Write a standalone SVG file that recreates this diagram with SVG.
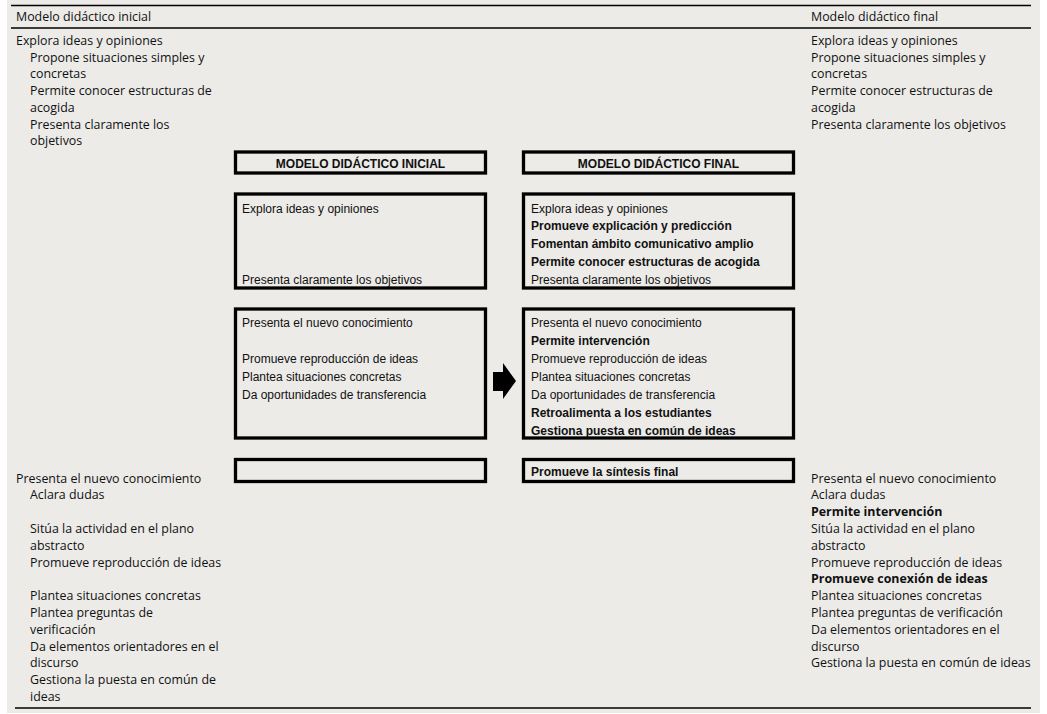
<svg xmlns="http://www.w3.org/2000/svg" width="1047" height="714" viewBox="0 0 1047 714">
<style>
.col{font-family:"Open Sans","DejaVu Sans",sans-serif;font-size:12.4px;fill:#111}
.b{font-weight:bold}
.bx{font-family:"Liberation Sans",Arial,sans-serif;font-size:12px;fill:#111}
.box{fill:none;stroke:#000;stroke-width:3.3}
.rule{stroke:#000;stroke-width:1.3}
</style>
<rect x="0" y="0" width="1047" height="714" fill="#fff"/>
<rect x="7" y="0" width="1033" height="713" fill="#ecebe8"/>
<g id="rules">
<line class="rule" x1="11" y1="5.5" x2="1031" y2="5.5"/>
<line class="rule" x1="11" y1="28" x2="1031" y2="28"/>
<line class="rule" x1="15" y1="708" x2="1031" y2="708"/>
</g>
<g id="left-column" class="col">
<text x="16" y="21">Modelo didáctico inicial</text>
<text x="16" y="45">Explora ideas y opiniones</text>
<text x="30" y="62">Propone situaciones simples y</text>
<text x="30" y="78">concretas</text>
<text x="30" y="95">Permite conocer estructuras de</text>
<text x="30" y="112">acogida</text>
<text x="30" y="129">Presenta claramente los</text>
<text x="30" y="145">objetivos</text>
<text x="16" y="483">Presenta el nuevo conocimiento</text>
<text x="30" y="499">Aclara dudas</text>
<text x="30" y="533">Sitúa la actividad en el plano</text>
<text x="30" y="550">abstracto</text>
<text x="30" y="567">Promueve reproducción de ideas</text>
<text x="30" y="600">Plantea situaciones concretas</text>
<text x="30" y="617">Plantea preguntas de</text>
<text x="30" y="634">verificación</text>
<text x="30" y="651">Da elementos orientadores en el</text>
<text x="30" y="667">discurso</text>
<text x="30" y="684">Gestiona la puesta en común de</text>
<text x="30" y="701">ideas</text>
</g>
<g id="right-column" class="col">
<text x="811" y="21">Modelo didáctico final</text>
<text x="811" y="45">Explora ideas y opiniones</text>
<text x="811" y="62">Propone situaciones simples y</text>
<text x="811" y="78">concretas</text>
<text x="811" y="95">Permite conocer estructuras de</text>
<text x="811" y="112">acogida</text>
<text x="811" y="129">Presenta claramente los objetivos</text>
<text x="811" y="483">Presenta el nuevo conocimiento</text>
<text x="811" y="499">Aclara dudas</text>
<text x="811" y="516" class="b">Permite intervención</text>
<text x="811" y="533">Sitúa la actividad en el plano</text>
<text x="811" y="550">abstracto</text>
<text x="811" y="567">Promueve reproducción de ideas</text>
<text x="811" y="583" class="b">Promueve conexión de ideas</text>
<text x="811" y="600">Plantea situaciones concretas</text>
<text x="811" y="617">Plantea preguntas de verificación</text>
<text x="811" y="634">Da elementos orientadores en el</text>
<text x="811" y="651">discurso</text>
<text x="811" y="667">Gestiona la puesta en común de ideas</text>
</g>
<g id="initial-header">
<rect class="box" x="235.5" y="152" width="250" height="21"/>
<text class="bx b" x="360.5" y="168" text-anchor="middle">MODELO DIDÁCTICO INICIAL</text>
</g>
<g id="initial-box1">
<rect class="box" x="235.5" y="194" width="250" height="94"/>
<text class="bx" x="242" y="213">Explora ideas y opiniones</text>
<text class="bx" x="242" y="284">Presenta claramente los objetivos</text>
</g>
<g id="initial-box2">
<rect class="box" x="235.5" y="309" width="250" height="129"/>
<text class="bx" x="242" y="327">Presenta el nuevo conocimiento</text>
<text class="bx" x="242" y="363">Promueve reproducción de ideas</text>
<text class="bx" x="242" y="381">Plantea situaciones concretas</text>
<text class="bx" x="242" y="399">Da oportunidades de transferencia</text>
</g>
<g id="initial-box3">
<rect class="box" x="235.5" y="459.5" width="250" height="22"/>
</g>
<g id="final-header">
<rect class="box" x="523.5" y="152" width="270" height="21"/>
<text class="bx b" x="658.5" y="168" text-anchor="middle">MODELO DIDÁCTICO FINAL</text>
</g>
<g id="final-box1">
<rect class="box" x="523.5" y="194" width="270" height="94"/>
<text class="bx" x="531" y="213">Explora ideas y opiniones</text>
<text class="bx b" x="531" y="230">Promueve explicación y predicción</text>
<text class="bx b" x="531" y="248">Fomentan ámbito comunicativo amplio</text>
<text class="bx b" x="531" y="266">Permite conocer estructuras de acogida</text>
<text class="bx" x="531" y="284">Presenta claramente los objetivos</text>
</g>
<g id="final-box2">
<rect class="box" x="523.5" y="309" width="270" height="129"/>
<text class="bx" x="531" y="327">Presenta el nuevo conocimiento</text>
<text class="bx b" x="531" y="345">Permite intervención</text>
<text class="bx" x="531" y="363">Promueve reproducción de ideas</text>
<text class="bx" x="531" y="381">Plantea situaciones concretas</text>
<text class="bx" x="531" y="399">Da oportunidades de transferencia</text>
<text class="bx b" x="531" y="417">Retroalimenta a los estudiantes</text>
<text class="bx b" x="531" y="435">Gestiona puesta en común de ideas</text>
</g>
<g id="final-box3">
<rect class="box" x="523.5" y="459.5" width="270" height="22"/>
<text class="bx b" x="531" y="476">Promueve la síntesis final</text>
</g>
<g id="connectors">
<polygon points="493,372 503,372 503,363 516,381 503,399 503,391 493,391" fill="#000"/>
</g>
</svg>
